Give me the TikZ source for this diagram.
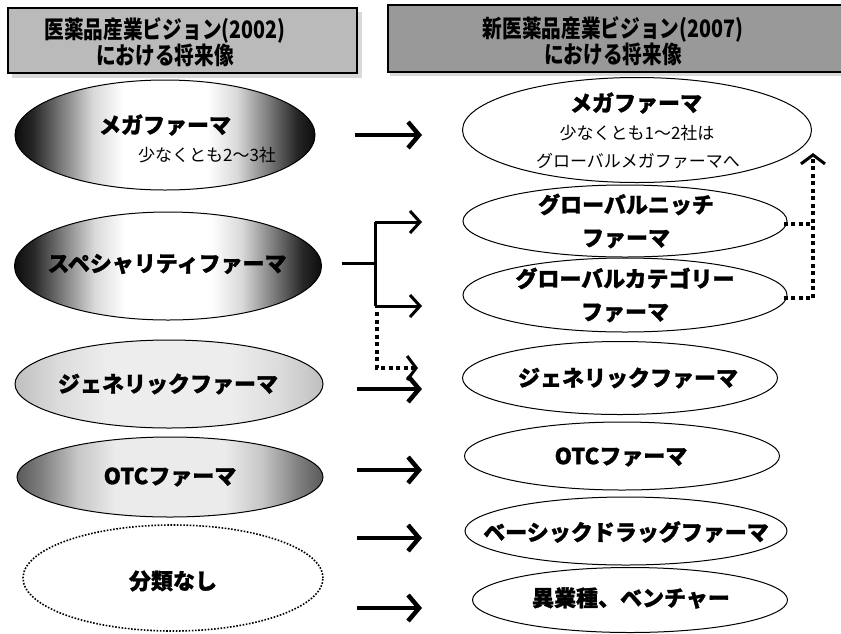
\documentclass[tikz,border=0pt]{standalone}
\usepackage{fontspec}
\newfontfamily\jp[BoldFeatures={FakeBold=1.2}]{Noto Sans CJK JP}
\newfontfamily\jpc[FakeStretch=0.82]{Noto Sans CJK JP}
\usetikzlibrary{arrows.meta,shapes.geometric}
\pgfdeclarehorizontalshading{shdark}{100bp}{color(0bp)=(black!95); color(25bp)=(black!95); color(28bp)=(black!85); color(33bp)=(black!50); color(38bp)=(black!15); color(43bp)=(white); color(57bp)=(white); color(62bp)=(black!15); color(67bp)=(black!50); color(72bp)=(black!85); color(75bp)=(black!95); color(100bp)=(black!95)}
\pgfdeclarehorizontalshading{shmid}{100bp}{color(0bp)=(black!65); color(25bp)=(black!65); color(29bp)=(black!50); color(35bp)=(black!22); color(41bp)=(black!8); color(59bp)=(black!8); color(65bp)=(black!22); color(71bp)=(black!50); color(75bp)=(black!65); color(100bp)=(black!65)}
\pgfdeclarehorizontalshading{shlight}{100bp}{color(0bp)=(black!25); color(25bp)=(black!25); color(32bp)=(black!14); color(40bp)=(black!7); color(60bp)=(black!7); color(68bp)=(black!14); color(75bp)=(black!25); color(100bp)=(black!25)}
\tikzset{
  ell/.style={ellipse, draw, line width=1pt, inner sep=0pt},
  rell/.style={ell, fill=white},
  lab/.style={font=\jp\bfseries\fontsize{22}{33}\selectfont, align=center, inner sep=0pt},
  sublab/.style={font=\jp\fontsize{17}{22}\selectfont, inner sep=0pt},
  headlab/.style={font=\jpc\bfseries\fontsize{24}{26}\selectfont, align=center, inner sep=0pt},
  bigarrow/.style={line width=4.5pt, -{Straight Barb[length=11pt,width=26pt]}},
  brline/.style={line width=3pt},
  brarrow/.style={line width=3pt, -{Straight Barb[length=10pt,width=22pt]}},
  dotline/.style={line width=4pt, dash pattern=on 4pt off 3.5pt},
  dotarrow/.style={dotline, -{Straight Barb[length=9pt,width=24pt,line width=3pt]}},
}
\begin{document}
\begin{tikzpicture}[x=1pt,y=-1pt]
\useasboundingbox (0,0) rectangle (841,633);
% headers
\fill[black!15] (12,12) rectangle (362,78);
\node[draw, line width=1.2pt, fill=black!27, minimum width=349pt, minimum height=65pt, inner sep=0pt] (hl) at (182.5,40.5) {};
\node[headlab] (hlt) at (165,42.5) {医薬品産業ビジョン(2002)\\における将来像};
\fill[black!15] (390,72) rectangle (841,76);
\node[draw, line width=1.2pt, fill=black!40, minimum width=455pt, minimum height=67pt, inner sep=0pt] (hr) at (615.5,38.5) {};
\node[headlab] (hrt) at (613,41.5) {新医薬品産業ビジョン(2007)\\における将来像};
% left column
\node[ell, shading=shdark, minimum width=300pt, minimum height=110pt] (l1) at (165,135) {};
\node[lab] (l1t) at (165,125) {メガファーマ};
\node[sublab] (l1s) at (207,155) {少なくとも2～3社};
\node[ell, shading=shdark, minimum width=307pt, minimum height=108pt] (l2) at (168,266) {};
\node[lab] (l2t) at (167,264) {スペシャリティファーマ};
\node[ell, shading=shlight, minimum width=308pt, minimum height=88pt] (l3) at (169,384) {};
\node[lab] (l3t) at (168,384) {ジェネリックファーマ};
\node[ell, shading=shmid, minimum width=306pt, minimum height=80pt] (l4) at (170,477) {};
\node[lab] (l4t) at (170,477) {OTCファーマ};
\node[ellipse, draw, line width=1.6pt, dash pattern=on 1.6pt off 1.6pt, inner sep=0pt, minimum width=300pt, minimum height=106pt] (l5) at (173,578) {};
\node[lab] (l5t) at (173,581) {分類なし};
% right column
\node[rell, minimum width=349pt, minimum height=105pt] (r1) at (637,130) {};
\node[lab] (r1t) at (636,103) {メガファーマ};
\node[sublab] (r1s) at (637,133) {少なくとも1～2社は};
\node[sublab] (r1u) at (638,161) {グローバルメガファーマへ};
\node[rell, minimum width=324pt, minimum height=72pt] (r2) at (625,221) {};
\node[lab] (r2t) at (626,221) {グローバルニッチ\\ファーマ};
\node[rell, minimum width=324pt, minimum height=74pt] (r3) at (625,295) {};
\node[lab] (r3t) at (625,295) {グローバルカテゴリー\\ファーマ};
\node[rell, minimum width=315pt, minimum height=73pt] (r4) at (620,378) {};
\node[lab] (r4t) at (628,378) {ジェネリックファーマ};
\node[rell, minimum width=315pt, minimum height=68pt] (r5) at (622,456) {};
\node[lab] (r5t) at (621,457) {OTCファーマ};
\node[rell, minimum width=322pt, minimum height=68pt] (r6) at (626,531) {};
\node[lab] (r6t) at (626,532) {ベーシックドラッグファーマ};
\node[rell, minimum width=315pt, minimum height=65pt] (r7) at (630,600) {};
\node[lab] (r7t) at (631,598) {異業種、ベンチャー};
% arrow coordinates
\coordinate (a1s) at (355,135); \coordinate (a1e) at (422,135);
\coordinate (b0) at (342,263); \coordinate (bj) at (375,263);
\coordinate (bt) at (375,222); \coordinate (bb) at (375,306);
\coordinate (bte) at (422,222); \coordinate (bbe) at (422,306);
\coordinate (d0) at (377,312); \coordinate (d1) at (377,368); \coordinate (d2) at (418,368);
\coordinate (a3s) at (357,389); \coordinate (a3e) at (422,389);
\coordinate (a4s) at (357,470); \coordinate (a4e) at (422,470);
\coordinate (a5s) at (357,538); \coordinate (a5e) at (422,538);
\coordinate (a6s) at (357,608); \coordinate (a6e) at (422,608);
\coordinate (e2) at (813,224); \coordinate (e3) at (813,298); \coordinate (e1) at (813,153);
% arrows
\draw[bigarrow] (a1s) -- (a1e);
\draw[brline] (b0) -- (bj);
\draw[brline] (bt) -- (bb);
\draw[brarrow] (bt) -- (bte);
\draw[brarrow] (bb) -- (bbe);
\draw[dotarrow] (d0) -- (d1) -- (d2);
\draw[bigarrow] (a3s) -- (a3e);
\draw[bigarrow] (a4s) -- (a4e);
\draw[bigarrow] (a5s) -- (a5e);
\draw[bigarrow] (a6s) -- (a6e);
\draw[dotline] (r2.east) ++(-4,3) -- (e2);
\draw[dotarrow] (r3.east) ++(-4,3) -- (e3) -- (e1);
\end{tikzpicture}
\end{document}
